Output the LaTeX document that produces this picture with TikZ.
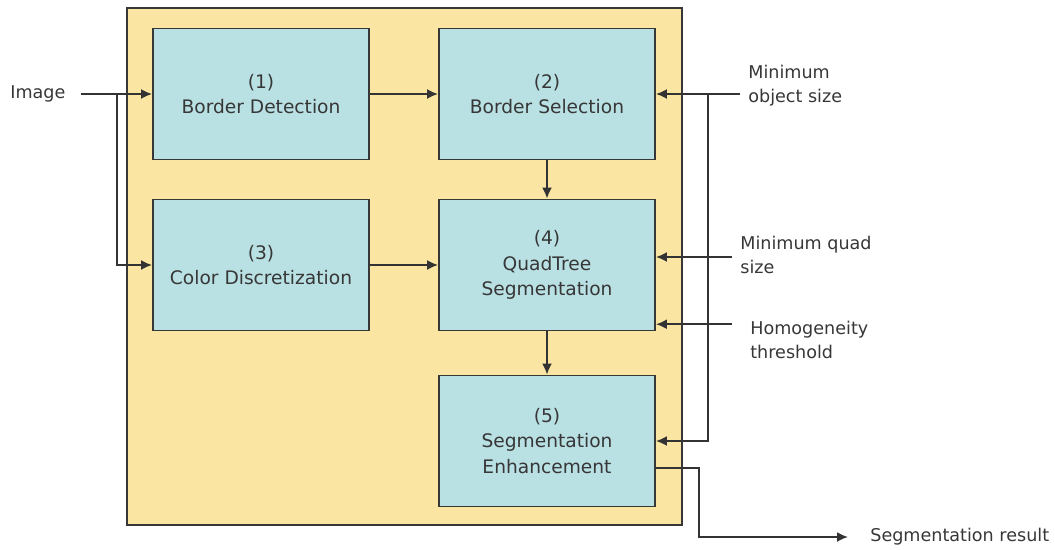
\documentclass[tikz,border=0pt]{standalone}
\usepackage{fontspec}
\setmainfont{DejaVu Sans}
\usetikzlibrary{arrows.meta,positioning,calc,backgrounds}
\definecolor{panelfill}{RGB}{250,230,162}
\definecolor{blockfill}{RGB}{185,224,227}
\definecolor{ink}{RGB}{55,55,55}

\begin{document}
\begin{tikzpicture}[
  font=\fontsize{10.6}{14.5}\selectfont,
  block/.style={draw=ink, line width=1.1pt, fill=blockfill, text=ink, align=center,
    minimum width=4.32cm, minimum height=2.62cm, inner sep=2pt},
  lbl/.style={text=ink, align=left, anchor=west, inner sep=0pt,
    font=\fontsize{10}{13.5}\selectfont},
  arr/.style={-{Latex[length=2.2mm,width=2mm]}, line width=1pt, black!80}]
\useasboundingbox (0,0) rectangle (21.1,-11);
% panel
\draw[draw=ink, line width=1.1pt, fill=panelfill] (2.54,-0.16) rectangle (13.64,-10.5);
% blocks
\node[block] (b1) at (5.22,-1.88) {(1)\\Border Detection};
\node[block] (b2) at (10.94,-1.88) {(2)\\Border Selection};
\node[block] (b3) at (5.22,-5.3) {(3)\\Color Discretization};
\node[block] (b4) at (10.94,-5.3) {(4)\\QuadTree\\Segmentation};
\node[block] (b5) at (10.94,-8.82) {(5)\\Segmentation\\Enhancement};
% inputs
\node[lbl] (img) at (0.2,-1.88) {Image};
\node[lbl] (mos) at (14.96,-1.72) {Minimum\\object size};
\node[lbl] (mqs) at (14.8,-5.1) {Minimum quad\\size};
\node[lbl] (hom) at (15.0,-6.8) {Homogeneity\\threshold};
\node[lbl] (res) at (17.4,-10.74) {Segmentation result};
% left side
\coordinate (split) at (2.34,-1.88);
\draw[arr] ([xshift=0.3cm]img.east) -- (b1.west);
\draw[arr] (split) |- (b3.west);
\draw[arr] (b1) -- (b2);
\draw[arr] (b3) -- (b4);
\draw[arr] (b2) -- (b4);
\draw[arr] (b4) -- (b5);
% right side
\coordinate (rj) at ($(b2.east)+(1.04,0)$);
\draw[arr] ([xshift=-0.16cm]mos.west |- b2.east) -- (b2.east);
\draw[arr] (rj) |- (b5.east);
\draw[arr] ([yshift=0.16cm]b4.east) ++(1.52,0) -- ++(-1.52,0);
\draw[arr] ([yshift=0.145cm]b4.south east) ++(1.52,0) -- ++(-1.52,0);
% output
\draw[arr] ([yshift=-0.54cm]b5.east) -- ++(0.86,0) |- ([xshift=-0.44cm]res.west);
\end{tikzpicture}
\end{document}
